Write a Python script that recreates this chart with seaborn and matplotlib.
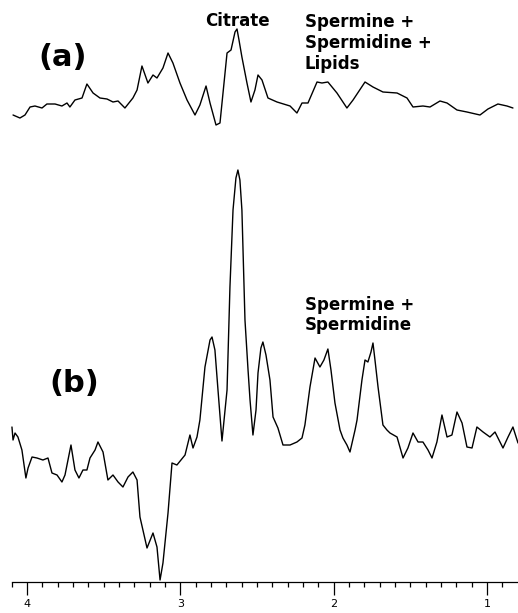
import numpy as np
import pandas as pd
import seaborn as sns
import matplotlib.pyplot as plt
from matplotlib.ticker import FixedLocator

# chemical shift (ppm) and intensity
ppm_a = [4.091, 4.046, 4.013, 3.980, 3.948, 3.902, 3.870, 3.817, 3.772, 3.739,
         3.720, 3.687, 3.641, 3.609, 3.569, 3.524, 3.478, 3.439, 3.406, 3.361,
         3.309, 3.282, 3.250, 3.211, 3.178, 3.152, 3.113, 3.080, 3.048, 3.002,
         2.956, 2.904, 2.872, 2.832, 2.806, 2.767, 2.741, 2.695, 2.669, 2.643,
         2.630, 2.617, 2.598, 2.565, 2.539, 2.513, 2.493, 2.467, 2.428, 2.369,
         2.284, 2.239, 2.206, 2.167, 2.108, 2.076, 2.037, 1.978, 1.913, 1.873,
         1.795, 1.743, 1.678, 1.586, 1.521, 1.482, 1.417, 1.371, 1.306, 1.260,
         1.195, 1.130, 1.045, 0.993, 0.928, 0.869, 0.830]
int_a = [5, 2, 5, 13, 14, 12, 16, 16, 14, 17,
         13, 20, 22, 36, 27, 22, 21, 18, 19, 12,
         22, 30, 54, 37, 45, 42, 52, 67, 57, 37,
         20, 5, 15, 34, 17, -5, -3, 67, 70, 88,
         91, 80, 63, 37, 18, 30, 45, 40, 22, 18,
         14, 7, 17, 17, 38, 37, 38, 27, 12, 20,
         38, 33, 28, 27, 22, 13, 14, 13, 19, 17,
         10, 8, 5, 11, 16, 14, 12]

ppm_b = [4.098, 4.091, 4.078, 4.059, 4.033, 4.007, 3.993, 3.967, 3.935, 3.896,
         3.863, 3.837, 3.804, 3.772, 3.752, 3.713, 3.687, 3.661, 3.635, 3.609,
         3.589, 3.556, 3.537, 3.504, 3.472, 3.439, 3.406, 3.374, 3.341, 3.309,
         3.282, 3.263, 3.217, 3.178, 3.152, 3.132, 3.113, 3.080, 3.054, 3.022,
         2.969, 2.937, 2.917, 2.891, 2.872, 2.839, 2.806, 2.793, 2.774, 2.754,
         2.728, 2.695, 2.676, 2.656, 2.637, 2.624, 2.611, 2.598, 2.578, 2.558,
         2.545, 2.526, 2.506, 2.493, 2.474, 2.461, 2.441, 2.415, 2.395, 2.363,
         2.330, 2.284, 2.239, 2.206, 2.187, 2.154, 2.121, 2.089, 2.063, 2.037,
         2.017, 1.991, 1.958, 1.939, 1.913, 1.893, 1.860, 1.847, 1.815, 1.795,
         1.776, 1.756, 1.743, 1.730, 1.710, 1.678, 1.652, 1.632, 1.586, 1.547,
         1.515, 1.482, 1.449, 1.417, 1.384, 1.358, 1.326, 1.293, 1.260, 1.228,
         1.195, 1.162, 1.130, 1.097, 1.065, 1.025, 0.980, 0.947, 0.895, 0.862,
         0.830, 0.797]
int_b = [155, 142, 149, 145, 132, 104, 114, 125, 124, 122,
         124, 109, 107, 100, 107, 137, 112, 104, 112, 112,
         124, 132, 140, 130, 102, 107, 100, 95, 105, 110,
         102, 65, 34, 49, 35, 2, 19, 69, 119, 117,
         127, 147, 134, 145, 162, 215, 242, 245, 232, 192,
         141, 192, 295, 372, 404, 412, 402, 372, 262, 212,
         182, 147, 172, 209, 234, 240, 227, 202, 165, 154,
         137, 137, 140, 144, 157, 195, 224, 215, 222, 233,
         212, 179, 152, 144, 137, 130, 152, 162, 202, 222,
         220, 230, 239, 222, 195, 157, 152, 149, 145, 124,
         134, 149, 140, 140, 132, 124, 140, 167, 145, 147,
         170, 159, 135, 134, 155, 150, 145, 150, 134, 145,
         155, 139]

offset_a = 462  # vertical shift of spectrum (a)

major_ticks = [1, 2, 3, 4]
tick_labels = ["1", "2", "3", "4"]

sns.set_theme(style="white")
plt.rcParams['font.family'] = ['DejaVu Sans']

df_a = pd.DataFrame({"ppm": ppm_a, "signal": np.array(int_a) + offset_a})
df_b = pd.DataFrame({"ppm": ppm_b, "signal": int_b})

fig = plt.figure(figsize=(5.18, 6.13), dpi=100)
ax = fig.add_axes([0, 31 / 613, 1, 582 / 613])

sns.lineplot(data=df_a, x="ppm", y="signal", ax=ax, color="black",
             linewidth=1.0, estimator=None, sort=False)
sns.lineplot(data=df_b, x="ppm", y="signal", ax=ax, color="black",
             linewidth=1.0, estimator=None, sort=False)

ax.set_xlim(4.176, 0.797)
ax.set_ylim(0, 582)
ax.set_xlabel("")
ax.set_ylabel("")
ax.set_yticks([])

for s in ["top", "left", "right"]:
    ax.spines[s].set_visible(False)
ax.spines["bottom"].set_bounds(0.797, 4.1)
ax.spines["bottom"].set_color("black")
ax.spines["bottom"].set_linewidth(0.9)

ax.set_xticks(major_ticks)
ax.set_xticklabels(tick_labels)
minor = [round(v, 1) for v in np.arange(0.9, 4.15, 0.1) if abs(v - round(v)) > 0.01]
ax.xaxis.set_minor_locator(FixedLocator(minor))
ax.tick_params(axis="x", which="major", direction="out", length=9.5, width=0.9,
               color="black", bottom=True, labelsize=8, pad=3, labelcolor="black")
ax.tick_params(axis="x", which="minor", direction="out", length=3.8, width=0.9,
               color="black", bottom=True)

ax.text(3.765, 525, "(a)", fontsize=22, fontweight="bold", ha="center", va="center",
        color="black")
ax.text(3.693, 199, "(b)", fontsize=22, fontweight="bold", ha="center", va="center",
        color="black")
ax.text(2.839, 561, "Citrate", fontsize=12, fontweight="bold", ha="left", va="center",
        color="black")
ax.text(2.187, 539, "Spermine +\nSpermidine +\nLipids", fontsize=12, fontweight="bold",
        ha="left", va="center", linespacing=1.2, color="black")
ax.text(2.187, 267, "Spermine +\nSpermidine", fontsize=12, fontweight="bold",
        ha="left", va="center", linespacing=1.2, color="black")

fig.savefig("out.png", dpi=100)
